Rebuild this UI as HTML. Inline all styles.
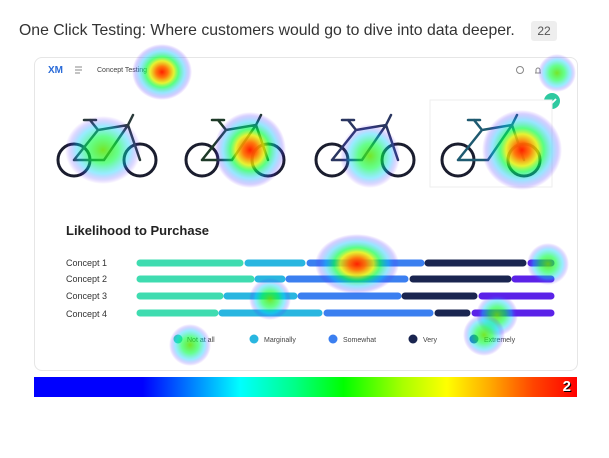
<!DOCTYPE html>
<html><head><style>
body{margin:0;width:609px;height:458px;background:#fff;position:relative;overflow:hidden;font-family:"Liberation Sans",sans-serif}
.t{position:absolute;left:19px;top:22px;font-size:15.8px;color:#333}
.pg{position:absolute;left:531px;top:21px;width:26px;height:20px;background:#eee;border-radius:3px;font-size:12px;color:#555;text-align:center;line-height:20px}
.card{position:absolute;left:34px;top:57px;width:542px;height:312px;border:1px solid #e6e6e6;border-radius:8px;background:#fff}
.cb{position:absolute;left:34px;top:377px;width:543px;height:20px;background:linear-gradient(90deg,#0000ff 0%,#0000ff 20%,#00aaff 32%,#00ffff 38%,#00ff88 48%,#00ff00 57%,#aaff00 68%,#ffff00 76%,#ffaa00 84%,#ff4400 92%,#ff0000 100%)}
.cb span{position:absolute;right:6px;top:1px;color:#fff;font-weight:bold;font-size:15px;text-shadow:1px 1px 0 #000}
</style></head><body>
<div class="t">One Click Testing: Where customers would go to dive into data deeper.</div>
<div class="pg">22</div>
<div class="card"></div>
<svg width="609" height="458" style="position:absolute;left:0;top:0">
<defs>
<radialGradient id="hr"><stop offset="0" stop-color="#ff2000"/><stop offset=".2" stop-color="#ff7000" stop-opacity=".95"/><stop offset=".4" stop-color="#e0f000" stop-opacity=".8"/><stop offset=".55" stop-color="#00ff40" stop-opacity=".65"/><stop offset=".75" stop-color="#00c0ff" stop-opacity=".4"/><stop offset=".9" stop-color="#5040ff" stop-opacity=".25"/><stop offset="1" stop-color="#6000ff" stop-opacity="0"/></radialGradient>
<radialGradient id="hg"><stop offset="0" stop-color="#60e000" stop-opacity=".85"/><stop offset=".4" stop-color="#00ff40" stop-opacity=".6"/><stop offset=".7" stop-color="#00d0ff" stop-opacity=".4"/><stop offset=".88" stop-color="#5040ff" stop-opacity=".2"/><stop offset="1" stop-color="#6000ff" stop-opacity="0"/></radialGradient>
</defs>
<text x="48" y="73" font-size="10" font-weight="bold" fill="#2a6bd8">XM</text>
<path d="M75 67h7M75 70h7M75 73h5" stroke="#888" stroke-width="1"/>
<text x="97" y="72" font-size="7" fill="#444">Concept Testing</text>
<circle cx="520" cy="70" r="3.5" fill="none" stroke="#888"/>
<path d="M535 73h6M536 73v-3a2 2 0 0 1 4 0v3" fill="none" stroke="#888"/>
<circle cx="552" cy="101" r="8" fill="#2ec9a0"/><path d="M548 101l3 3 5-5" stroke="#fff" stroke-width="1.8" fill="none"/>
<rect x="430" y="100" width="122" height="87" fill="#fff" stroke="#eee"/>
<g stroke="#1a1d2e" stroke-width="3" fill="none">
<circle cx="74" cy="160" r="16"/><circle cx="140" cy="160" r="16"/>
<circle cx="202" cy="160" r="16"/><circle cx="268" cy="160" r="16"/>
<circle cx="332" cy="160" r="16"/><circle cx="398" cy="160" r="16"/>
<circle cx="458" cy="160" r="16"/><circle cx="524" cy="160" r="16"/>
</g>
<g stroke-width="2.5" fill="none" stroke-linecap="round">
<path d="M74 160l24-30 30-5 12 35M98 130l-8-10M84 120h12M128 125l5-10M74 160h30l24-35" stroke="#2a3a3a"/>
<path d="M202 160l24-30 30-5 12 35M226 130l-8-10M212 120h12M256 125l5-10M202 160h30l24-35" stroke="#1e3a28"/>
<path d="M332 160l24-30 30-5 12 35M356 130l-8-10M342 120h12M386 125l5-10M332 160h30l24-35" stroke="#2a3660"/>
<path d="M458 160l24-30 30-5 12 35M482 130l-8-10M468 120h12M512 125l5-10M458 160h30l24-35" stroke="#1f5a70"/>
</g>
<text x="66" y="235" font-size="13" font-weight="bold" fill="#222">Likelihood to Purchase</text>
<g font-size="9" fill="#333"><text x="66" y="266">Concept 1</text><text x="66" y="282">Concept 2</text><text x="66" y="299">Concept 3</text><text x="66" y="317">Concept 4</text></g>
<g stroke-width="7" stroke-linecap="round">
<line x1="140" y1="263" x2="240" y2="263" stroke="#3fdcb0"/><line x1="248" y1="263" x2="302" y2="263" stroke="#29b6e0"/><line x1="310" y1="263" x2="421" y2="263" stroke="#3b7ff0"/><line x1="428" y1="263" x2="523" y2="263" stroke="#1a2550"/><line x1="531" y1="263" x2="551" y2="263" stroke="#5b22e8"/>
<line x1="140" y1="279" x2="251" y2="279" stroke="#3fdcb0"/><line x1="258" y1="279" x2="282" y2="279" stroke="#29b6e0"/><line x1="289" y1="279" x2="405" y2="279" stroke="#3b7ff0"/><line x1="413" y1="279" x2="508" y2="279" stroke="#1a2550"/><line x1="515" y1="279" x2="551" y2="279" stroke="#5b22e8"/>
<line x1="140" y1="296" x2="220" y2="296" stroke="#3fdcb0"/><line x1="227" y1="296" x2="294" y2="296" stroke="#29b6e0"/><line x1="301" y1="296" x2="398" y2="296" stroke="#3b7ff0"/><line x1="405" y1="296" x2="474" y2="296" stroke="#1a2550"/><line x1="482" y1="296" x2="551" y2="296" stroke="#5b22e8"/>
<line x1="140" y1="313" x2="215" y2="313" stroke="#3fdcb0"/><line x1="222" y1="313" x2="319" y2="313" stroke="#29b6e0"/><line x1="327" y1="313" x2="430" y2="313" stroke="#3b7ff0"/><line x1="438" y1="313" x2="467" y2="313" stroke="#1a2550"/><line x1="475" y1="313" x2="551" y2="313" stroke="#5b22e8"/>
</g>
<g font-size="7" fill="#444">
<circle cx="178" cy="339" r="4.5" fill="#3fdcb0"/><text x="187" y="342">Not at all</text>
<circle cx="254" cy="339" r="4.5" fill="#29b6e0"/><text x="264" y="342">Marginally</text>
<circle cx="333" cy="339" r="4.5" fill="#3b7ff0"/><text x="343" y="342">Somewhat</text>
<circle cx="413" cy="339" r="4.5" fill="#1a2550"/><text x="423" y="342">Very</text>
<circle cx="474" cy="339" r="4.5" fill="#3b5ab0"/><text x="484" y="342">Extremely</text>
</g>
<g>
<ellipse cx="162" cy="72" rx="30" ry="28" fill="url(#hr)"/>
<circle cx="557" cy="73" r="19" fill="url(#hg)"/>
<ellipse cx="103" cy="150" rx="38" ry="34" fill="url(#hg)"/>
<ellipse cx="250" cy="150" rx="36" ry="38" fill="url(#hr)"/>
<ellipse cx="370" cy="156" rx="30" ry="32" fill="url(#hg)"/>
<ellipse cx="522" cy="150" rx="40" ry="40" fill="url(#hr)"/>
<ellipse cx="357" cy="264" rx="42" ry="30" fill="url(#hr)"/>
<circle cx="548" cy="264" r="21" fill="url(#hg)"/>
<circle cx="270" cy="299" r="21" fill="url(#hg)"/>
<circle cx="497" cy="315" r="21" fill="url(#hg)"/>
<circle cx="484" cy="335" r="21" fill="url(#hg)"/>
<circle cx="190" cy="345" r="21" fill="url(#hg)"/>
</g>
</svg>
<div class="cb"><span>2</span></div>
</body></html>
